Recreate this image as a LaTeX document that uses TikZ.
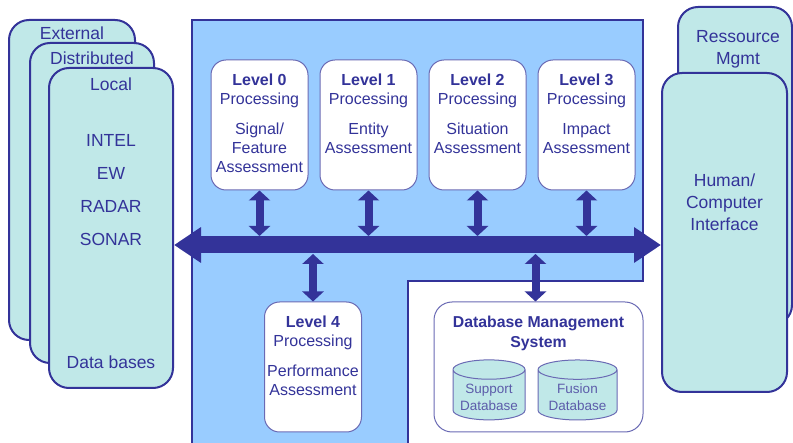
\documentclass[tikz,border=0pt]{standalone}
\usepackage{fontspec}
\setmainfont{Liberation Sans}
\usetikzlibrary{positioning, shapes.geometric, arrows.meta}
\definecolor{ink}{HTML}{333399}
\definecolor{panel}{HTML}{99CCFF}
\definecolor{aqua}{HTML}{C0E8E8}
\definecolor{soft}{HTML}{6A6AB4}
\definecolor{dbtext}{HTML}{5C5CAA}
\tikzstyle{stack} = [draw=ink, line width=2pt, fill=aqua, rounded corners=20pt]
\tikzstyle{stacktext} = [inner sep=0pt, text=ink, align=center, font=\fontsize{17.5}{22}\selectfont]
\tikzstyle{lvl} = [draw=soft, line width=1pt, fill=white, rounded corners=15pt, minimum width=97pt, minimum height=130pt]
\tikzstyle{lvltext} = [inner sep=0pt, text=ink, align=center, font=\fontsize{16}{19}\selectfont]
\tikzstyle{db} = [cylinder, shape border rotate=90, aspect=0.3, draw=soft, line width=1pt, fill=aqua, text=dbtext, align=center, font=\fontsize{13.5}{17}\selectfont]
\tikzstyle{bus} = [line width=17pt, draw=ink, {Triangle[width=34pt,length=27pt]}-{Triangle[width=34pt,length=27pt]}]
\tikzstyle{link} = [line width=8pt, draw=ink, {Triangle[width=21pt,length=10pt]}-{Triangle[width=21pt,length=10pt]}]

\begin{document}
\begin{tikzpicture}[x=1pt, y=-1pt]
\useasboundingbox (0,0) rectangle (793,443);

% fusion domain panel
\draw [draw=ink, fill=panel, line width=1.2pt] (192,20) -- (643,20) -- (643,281) -- (408,281) -- (408,446) -- (192,446) -- cycle;

% sources
\node [stack, minimum width=126pt, minimum height=320pt] (ext) at (72,180) {};
\node [stacktext] (extt) [below=7.7pt of ext.north] {External};
\node [stack, minimum width=124pt, minimum height=320pt] (dist) at (92,203) {};
\node [stacktext] (distt) [below=9.7pt of dist.north] {Distributed};
\node [stack, minimum width=124pt, minimum height=320pt] (local) at (111,228) {};
\node [stacktext, font=\fontsize{17.5}{33}\selectfont] (localt) [below=10.5pt of local.north] {Local\\[23pt]INTEL\\EW\\RADAR\\SONAR};
\node [stacktext] (dbases) [above=19.7pt of local.south] {Data bases};

% user side
\node [stack, minimum width=114pt, minimum height=318pt] (res) at (735,166) {};
\node [stacktext] (rest) [below=24.5pt of res.north, xshift=3pt] {Ressource\\Mgmt};
\node [stack, minimum width=125pt, minimum height=319pt] (hci) at (724.5,232.5) {};
\node [stacktext] (hcit) [below=101.5pt of hci.north] {Human/\\Computer\\Interface};

% processing levels
\node [lvl] (l0) at (259.5,125) {};
\node [lvl] (l1) [right=11pt of l0] {};
\node [lvl] (l2) [right=11pt of l1] {};
\node [lvl] (l3) [right=11pt of l2] {};
\node [lvl] (l4) at (313,367) {};

\node [lvltext] (l0t) [below=14pt of l0.north] {\textbf{Level 0}\\Processing\\[11pt]Signal/\\Feature\\Assessment};
\node [lvltext] (l1t) [below=14pt of l1.north] {\textbf{Level 1}\\Processing\\[11pt]Entity\\Assessment};
\node [lvltext] (l2t) [below=14pt of l2.north] {\textbf{Level 2}\\Processing\\[11pt]Situation\\Assessment};
\node [lvltext] (l3t) [below=14pt of l3.north] {\textbf{Level 3}\\Processing\\[11pt]Impact\\Assessment};
\node [lvltext] (l4t) [below=14pt of l4.north] {\textbf{Level 4}\\Processing\\[11pt]Performance\\Assessment};

% database management
\node [lvl, minimum width=209pt, rounded corners=18pt] (dbms) at (538.5,367) {};
\node [lvltext, font=\bfseries\fontsize{15.8}{20}\selectfont] (dbmst) [below=14.5pt of dbms.north] {Database Management\\System};
\node [db, minimum width=72pt, minimum height=60pt] (sup) at (489,397) {Support\\Database};
\node [db, minimum width=79pt, minimum height=60pt] (fus) at (577.5,397) {Fusion\\Database};

% bus
\coordinate (busmid) at (0,245);
\coordinate (bustop) at (0,236);
\coordinate (busbot) at (0,254);
\draw [bus] (local.east |- busmid) -- (hci.west |- busmid);

\draw [link] (l0.south) -- (l0.south |- bustop);
\draw [link] (l1.south) -- (l1.south |- bustop);
\draw [link] (l2.south) -- (l2.south |- bustop);
\draw [link] (l3.south) -- (l3.south |- bustop);
\draw [link] (l4.north) -- (l4.north |- busbot);
\draw [link] ([xshift=-3pt]dbms.north) -- ([xshift=-3pt]dbms.north |- busbot);
\end{tikzpicture}
\end{document}
